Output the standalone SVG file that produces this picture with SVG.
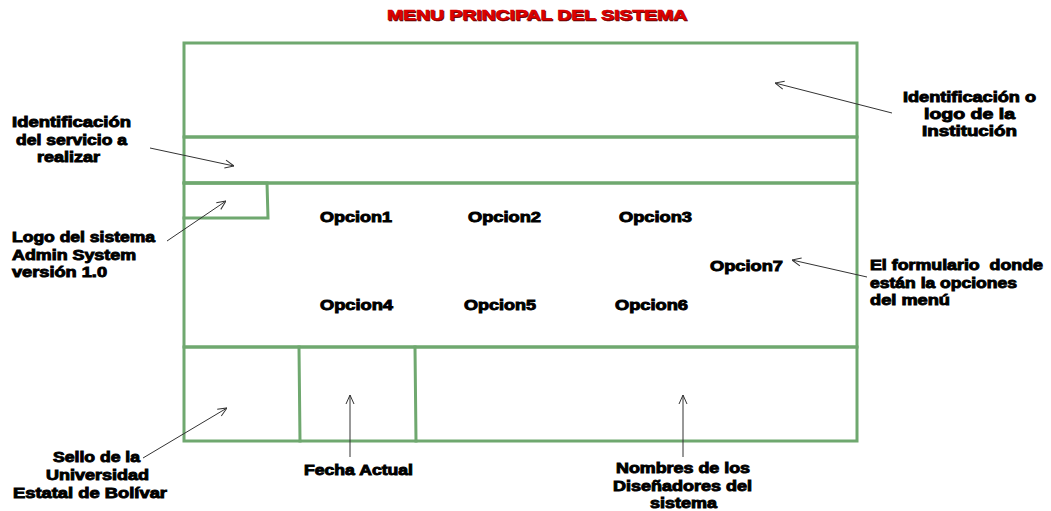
<svg xmlns="http://www.w3.org/2000/svg" width="1051" height="511" viewBox="0 0 1051 511">
<style>
.frame{fill:none;stroke:#6fa86f;stroke-width:3;stroke-linecap:square}
.lbl{font-family:"Liberation Sans",Arial,sans-serif;font-weight:bold;font-size:14px;fill:#000;stroke:#000;stroke-width:0.9;white-space:pre}
.conn{fill:none;stroke:#333;stroke-width:1}
.title{font-family:"Liberation Sans",Arial,sans-serif;font-weight:bold;font-size:14px;fill:#e00000;stroke:#d00000;stroke-width:0.6}
</style>
<defs>
<marker id="arr" viewBox="0 0 10 10" refX="10" refY="5" markerWidth="10" markerHeight="10" markerUnits="userSpaceOnUse" orient="auto">
<path d="M1,1 L10,5 L1,9" fill="none" stroke="#333" stroke-width="1"/>
</marker>
</defs>
<rect width="1051" height="511" fill="#fff"/>
<g id="title">
<text x="388" y="21" class="title" style="fill:#600;stroke:#600" textLength="300" lengthAdjust="spacingAndGlyphs">MENU PRINCIPAL DEL SISTEMA</text>
<text x="387" y="20" class="title" textLength="300" lengthAdjust="spacingAndGlyphs">MENU PRINCIPAL DEL SISTEMA</text>
</g>
<g id="frame">
<g id="header"><rect x="184" y="43" width="673" height="94" class="frame"/></g>
<g id="service-bar"><rect x="184" y="137" width="673" height="46" class="frame"/></g>
<g id="options-form"><rect x="184" y="183" width="673" height="164" class="frame"/></g>
<g id="system-logo"><path d="M184,183 L267,183 L268,218 L184,218" class="frame"/></g>
<g id="footer"><rect x="184" y="347" width="673" height="94" class="frame"/>
<path d="M299,347 L300,441 M415,347 L416,441" class="frame"/></g>
</g>
<g id="options" class="lbl">
<text x="320" y="222" textLength="72" lengthAdjust="spacingAndGlyphs">Opcion1</text>
<text x="468" y="222" textLength="73" lengthAdjust="spacingAndGlyphs">Opcion2</text>
<text x="619" y="222" textLength="73" lengthAdjust="spacingAndGlyphs">Opcion3</text>
<text x="710" y="271" textLength="73" lengthAdjust="spacingAndGlyphs">Opcion7</text>
<text x="320" y="310" textLength="73" lengthAdjust="spacingAndGlyphs">Opcion4</text>
<text x="464" y="310" textLength="72" lengthAdjust="spacingAndGlyphs">Opcion5</text>
<text x="615" y="310" textLength="73" lengthAdjust="spacingAndGlyphs">Opcion6</text>
</g>
<g id="connectors" class="conn">
<line x1="150" y1="148" x2="234" y2="166" marker-end="url(#arr)"/>
<line x1="167" y1="241" x2="226" y2="201" marker-end="url(#arr)"/>
<line x1="892" y1="113" x2="775" y2="83" marker-end="url(#arr)"/>
<line x1="867" y1="277" x2="792" y2="260" marker-end="url(#arr)"/>
<line x1="143" y1="458" x2="227" y2="408" marker-end="url(#arr)"/>
<line x1="350" y1="457" x2="350" y2="395" marker-end="url(#arr)"/>
<line x1="683" y1="457" x2="683" y2="395" marker-end="url(#arr)"/>
</g>
<g id="label-servicio" class="lbl">
<text x="12" y="127" textLength="119" lengthAdjust="spacingAndGlyphs">Identificación</text>
<text x="16" y="145" textLength="111" lengthAdjust="spacingAndGlyphs">del servicio a</text>
<text x="37" y="162" textLength="63" lengthAdjust="spacingAndGlyphs">realizar</text>
</g>
<g id="label-logo-sistema" class="lbl">
<text x="12" y="242" textLength="143" lengthAdjust="spacingAndGlyphs">Logo del sistema</text>
<text x="12" y="260" textLength="124" lengthAdjust="spacingAndGlyphs">Admin System</text>
<text x="12" y="277" textLength="95" lengthAdjust="spacingAndGlyphs">versión 1.0</text>
</g>
<g id="label-institucion" class="lbl">
<text x="903" y="102" textLength="133" lengthAdjust="spacingAndGlyphs">Identificación o</text>
<text x="924" y="119" textLength="91" lengthAdjust="spacingAndGlyphs">logo de la</text>
<text x="922" y="136" textLength="95" lengthAdjust="spacingAndGlyphs">Institución</text>
</g>
<g id="label-formulario" class="lbl">
<text x="870" y="270" textLength="173" lengthAdjust="spacingAndGlyphs" xml:space="preserve">El formulario  donde</text>
<text x="870" y="288" textLength="147" lengthAdjust="spacingAndGlyphs">están la opciones</text>
<text x="870" y="305" textLength="80" lengthAdjust="spacingAndGlyphs">del menú</text>
</g>
<g id="label-sello" class="lbl">
<text x="53" y="462" textLength="87" lengthAdjust="spacingAndGlyphs">Sello de la</text>
<text x="46" y="480" textLength="103" lengthAdjust="spacingAndGlyphs">Universidad</text>
<text x="13" y="498" textLength="154" lengthAdjust="spacingAndGlyphs">Estatal de Bolívar</text>
</g>
<g id="label-fecha" class="lbl">
<text x="304" y="475" textLength="109" lengthAdjust="spacingAndGlyphs">Fecha Actual</text>
</g>
<g id="label-disenadores" class="lbl">
<text x="616" y="473" textLength="134" lengthAdjust="spacingAndGlyphs">Nombres de los</text>
<text x="613" y="491" textLength="139" lengthAdjust="spacingAndGlyphs">Diseñadores del</text>
<text x="650" y="508" textLength="67" lengthAdjust="spacingAndGlyphs">sistema</text>
</g>
</svg>
